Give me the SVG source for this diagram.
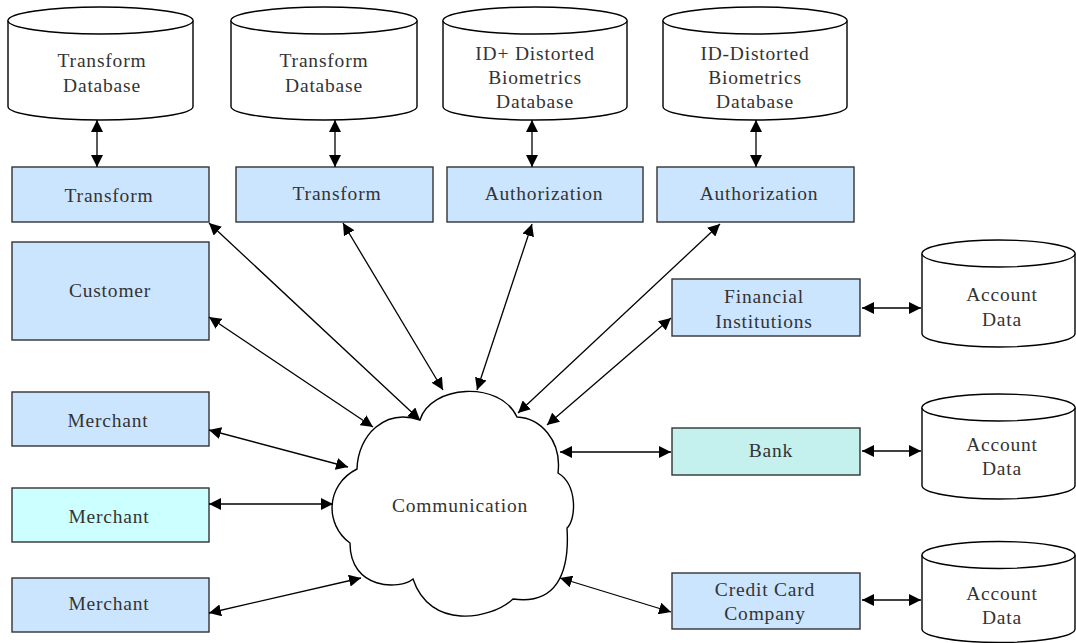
<svg xmlns="http://www.w3.org/2000/svg" width="1076" height="643" viewBox="0 0 1076 643">
  <defs>
    <marker id="arrow" viewBox="0 0 12 12" refX="12" refY="6" markerWidth="12" markerHeight="12" markerUnits="userSpaceOnUse" orient="auto-start-reverse">
      <path d="M0,0 L12,6 L0,12 Z" fill="#000"/>
    </marker>
  </defs>
  <style>
    .box { fill: #CCE5FF; stroke: #333; stroke-width: 1.4; }
    .cyan { fill: #CCFFFF; }
    .teal { fill: #C4F0EE; }
    .cyl { fill: #fff; stroke: #000; stroke-width: 1.4; }
    .cloud { fill: #fff; stroke: #000; stroke-width: 1.4; }
    .lbl { font-family: "Liberation Serif", "Times New Roman", serif; font-size: 19.5px; letter-spacing: 0.8px; fill: #333; text-anchor: middle; }
    .conn line { stroke: #000; stroke-width: 1.3; marker-start: url(#arrow); marker-end: url(#arrow); }
  </style>

  <rect width="1076" height="643" fill="#fff"/>

  <!-- databases, top row -->
  <g id="db-transform-1">
    <path class="cyl" d="M8,20.5 V106.5 A92.5,13.5 0 0 0 193,106.5 V20.5 A92.5,13.5 0 0 0 8,20.5 Z"/>
    <path class="cyl" fill="none" d="M8,20.5 A92.5,13.5 0 0 0 193,20.5"/>
    <text class="lbl" x="102" y="67">Transform</text>
    <text class="lbl" x="102" y="91.5">Database</text>
  </g>
  <g id="db-transform-2">
    <path class="cyl" d="M231,20.5 V106.5 A93,13.5 0 0 0 417,106.5 V20.5 A93,13.5 0 0 0 231,20.5 Z"/>
    <path class="cyl" fill="none" d="M231,20.5 A93,13.5 0 0 0 417,20.5"/>
    <text class="lbl" x="324" y="67">Transform</text>
    <text class="lbl" x="324" y="91.5">Database</text>
  </g>
  <g id="db-id-plus">
    <path class="cyl" d="M443,20.5 V106.5 A92,13.5 0 0 0 627,106.5 V20.5 A92,13.5 0 0 0 443,20.5 Z"/>
    <path class="cyl" fill="none" d="M443,20.5 A92,13.5 0 0 0 627,20.5"/>
    <text class="lbl" x="535" y="60">ID+ Distorted</text>
    <text class="lbl" x="535" y="84">Biometrics</text>
    <text class="lbl" x="535" y="108">Database</text>
  </g>
  <g id="db-id-minus">
    <path class="cyl" d="M663,20.5 V106.5 A92,13.5 0 0 0 847,106.5 V20.5 A92,13.5 0 0 0 663,20.5 Z"/>
    <path class="cyl" fill="none" d="M663,20.5 A92,13.5 0 0 0 847,20.5"/>
    <text class="lbl" x="755" y="60">ID-Distorted</text>
    <text class="lbl" x="755" y="84">Biometrics</text>
    <text class="lbl" x="755" y="108">Database</text>
  </g>

  <!-- service boxes -->
  <g id="transform-1">
    <rect class="box" x="12" y="167" width="197" height="55"/>
    <text class="lbl" x="109" y="202">Transform</text>
  </g>
  <g id="transform-2">
    <rect class="box" x="236" y="167" width="197" height="55"/>
    <text class="lbl" x="337" y="200">Transform</text>
  </g>
  <g id="authorization-1">
    <rect class="box" x="447" y="167" width="196" height="55"/>
    <text class="lbl" x="544" y="200">Authorization</text>
  </g>
  <g id="authorization-2">
    <rect class="box" x="657" y="167" width="197" height="55"/>
    <text class="lbl" x="759" y="200">Authorization</text>
  </g>

  <g id="customer">
    <rect class="box" x="12" y="242" width="197" height="98"/>
    <text class="lbl" x="110" y="297">Customer</text>
  </g>
  <g id="merchant-1">
    <rect class="box" x="12" y="392" width="197" height="54"/>
    <text class="lbl" x="108" y="426.5">Merchant</text>
  </g>
  <g id="merchant-2">
    <rect class="box cyan" x="12" y="488" width="197" height="54"/>
    <text class="lbl" x="109" y="523">Merchant</text>
  </g>
  <g id="merchant-3">
    <rect class="box" x="12" y="578" width="197" height="54"/>
    <text class="lbl" x="109" y="610">Merchant</text>
  </g>

  <g id="financial-institutions">
    <rect class="box" x="672" y="279" width="188" height="57"/>
    <text class="lbl" x="764" y="302.5">Financial</text>
    <text class="lbl" x="764" y="327.5">Institutions</text>
  </g>
  <g id="bank">
    <rect class="box teal" x="672" y="428" width="188" height="47"/>
    <text class="lbl" x="771" y="456.5">Bank</text>
  </g>
  <g id="credit-card-company">
    <rect class="box" x="672" y="573" width="188" height="56"/>
    <text class="lbl" x="765" y="596">Credit Card</text>
    <text class="lbl" x="765" y="620">Company</text>
  </g>

  <!-- account databases -->
  <g id="account-data-1">
    <path class="cyl" d="M922,253.5 V333.5 A76.5,13.5 0 0 0 1075,333.5 V253.5 A76.5,13.5 0 0 0 922,253.5 Z"/>
    <path class="cyl" fill="none" d="M922,253.5 A76.5,13.5 0 0 0 1075,253.5"/>
    <text class="lbl" x="1002" y="301">Account</text>
    <text class="lbl" x="1002" y="325.5">Data</text>
  </g>
  <g id="account-data-2">
    <path class="cyl" d="M922,407.5 V485.5 A76.5,13.5 0 0 0 1075,485.5 V407.5 A76.5,13.5 0 0 0 922,407.5 Z"/>
    <path class="cyl" fill="none" d="M922,407.5 A76.5,13.5 0 0 0 1075,407.5"/>
    <text class="lbl" x="1002" y="451">Account</text>
    <text class="lbl" x="1002" y="475">Data</text>
  </g>
  <g id="account-data-3">
    <path class="cyl" d="M922,555 V629 A76.5,13.5 0 0 0 1075,629 V555 A76.5,13.5 0 0 0 922,555 Z"/>
    <path class="cyl" fill="none" d="M922,555 A76.5,13.5 0 0 0 1075,555"/>
    <text class="lbl" x="1002" y="600">Account</text>
    <text class="lbl" x="1002" y="624">Data</text>
  </g>

  <!-- communication network cloud -->
  <g id="communication">
    <path class="cloud" d="M357,469 C358,435 385,408 420,420 C430,385 500,380 517,417 C540,418 562,440 558,473 C578,485 576,520 567,528 C570,575 555,605 513,599 C490,620 430,630 413,579 C400,590 350,590 350,543 C325,525 325,485 357,469 Z"/>
    <text class="lbl" x="460" y="512">Communication</text>
  </g>

  <!-- connectors -->
  <g id="connectors" class="conn">
    <line x1="97" y1="120" x2="97" y2="167"/>
    <line x1="335" y1="120" x2="335" y2="167"/>
    <line x1="532" y1="120" x2="532" y2="167"/>
    <line x1="756" y1="120" x2="756" y2="167"/>

    <line x1="209" y1="223" x2="420" y2="420"/>
    <line x1="343" y1="223" x2="443" y2="390"/>
    <line x1="532" y1="224" x2="477" y2="390"/>
    <line x1="720" y1="224" x2="518" y2="413"/>
    <line x1="671" y1="318" x2="547" y2="425"/>
    <line x1="209" y1="317" x2="373" y2="427"/>
    <line x1="209" y1="430" x2="348" y2="467"/>
    <line x1="209" y1="504" x2="333" y2="504"/>
    <line x1="209" y1="613" x2="361" y2="578"/>
    <line x1="560" y1="452" x2="671" y2="452"/>
    <line x1="560" y1="578" x2="671" y2="612"/>

    <line x1="862" y1="308" x2="921" y2="308"/>
    <line x1="862" y1="451" x2="921" y2="451"/>
    <line x1="862" y1="600" x2="921" y2="600"/>
  </g>
</svg>
